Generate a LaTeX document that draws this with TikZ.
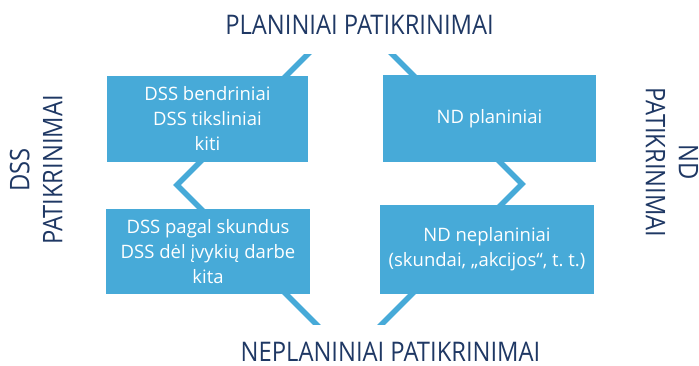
\documentclass[tikz,border=0pt]{standalone}
\usepackage{fontspec}
\setmainfont{Open Sans}
\newfontfamily\labelfont[FakeStretch=0.88]{Open Sans}
\definecolor{boxblue}{RGB}{71,170,216}
\definecolor{navy}{RGB}{31,56,100}
\begin{document}
\begin{tikzpicture}[x=1pt,y=-1pt,
 box/.style={fill=boxblue, draw=none, text=white, font=\fontsize{18.5}{25}\selectfont, align=center, inner sep=0pt},
 zig/.style={draw=boxblue, line width=5.5pt, line join=miter},
 lbl/.style={text=navy, font=\labelfont\fontsize{27}{33}\selectfont, inner sep=0pt},
 sidelbl/.style={lbl, align=center}]
\useasboundingbox (0,0) rectangle (699,365);
\begin{scope}
\clip (0,54) rectangle (699,324);
\coordinate (l1) at (318,44);
\coordinate (l2) at (177,185);
\coordinate (l3) at (326,334);
\coordinate (r1) at (382,44);
\coordinate (r2) at (522,184);
\coordinate (r3) at (372,334);
\draw[zig] (l1) -- (l2) -- (l3);
\draw[zig] (r1) -- (r2) -- (r3);
\end{scope}
\node[box, minimum width=201pt, minimum height=86pt] (a) at (207.5,119) {DSS bendriniai\\DSS tiksliniai\\kiti};
\node[box, minimum width=204pt, minimum height=85pt] (c) at (208,251.5) {DSS pagal skundus\\DSS dėl įvykių darbe\\kita};
\node[box, minimum width=213pt, minimum height=87pt] (b) at (489.5,118.5) {ND planiniai};
\node[box, minimum width=214pt, minimum height=89pt] (d) at (487,249.5) {ND neplaniniai\\(skundai, „akcijos“, t.\ t.)};
\node[sidelbl, rotate=90] (dss) at (36,170) {DSS\\PATIKRINIMAI};
\node[sidelbl, rotate=-90] (nd) at (672,162.5) {ND\\PATIKRINIMAI};
\node[lbl, anchor=base] (plan) at (359.5,34) {PLANINIAI PATIKRINIMAI};
\node[lbl, anchor=base, text depth=0pt] (neplan) at (390.5,361.5) {NEPLANINIAI PATIKRINIMAI};
\end{tikzpicture}
\end{document}
